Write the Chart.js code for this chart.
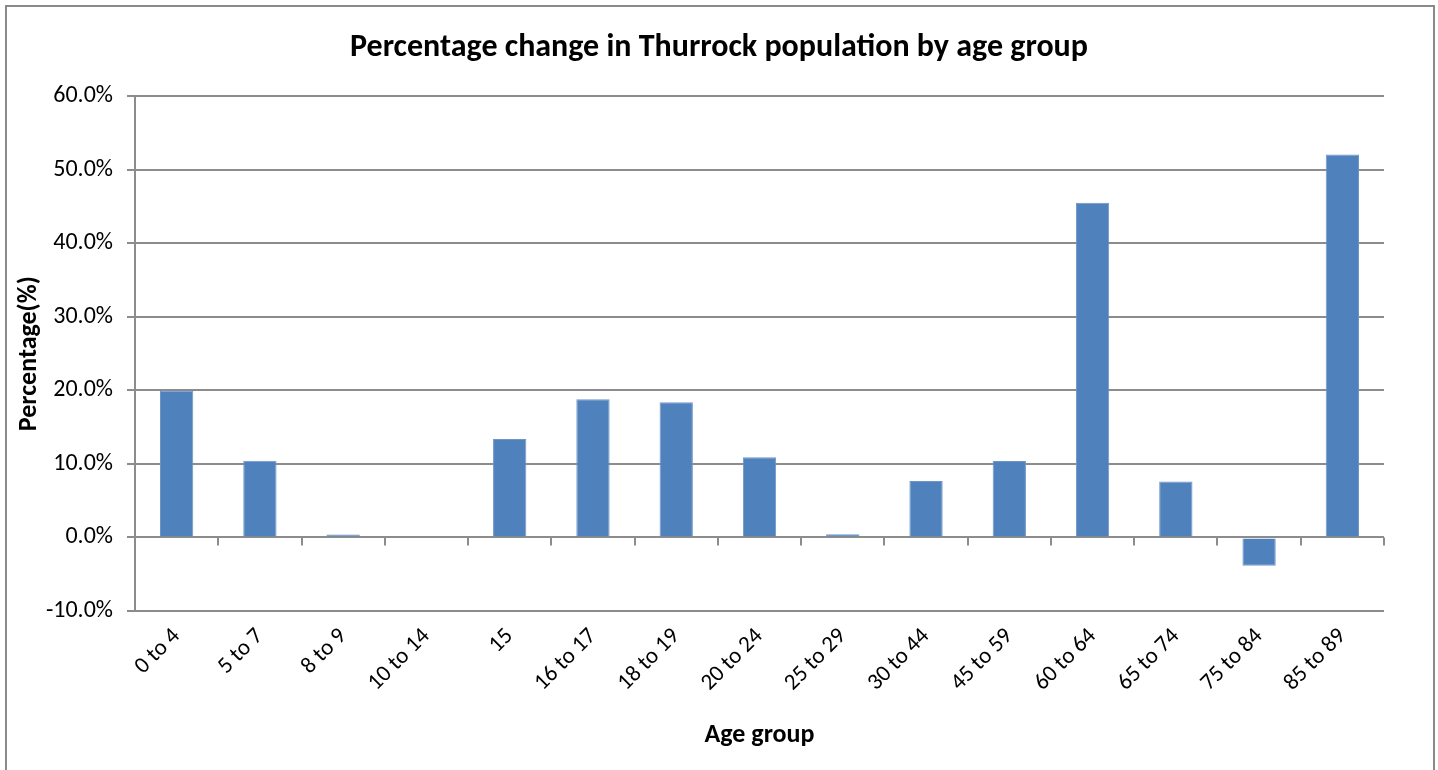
<!DOCTYPE html>
<html>
<head>
<meta charset="utf-8">
<title>Percentage change in Thurrock population by age group</title>
<script src="https://cdn.jsdelivr.net/npm/chart.js@4"></script>
<style>
  html, body { margin: 0; padding: 0; background: #fff; }
  .marco {
    position: absolute; left: 5px; top: 5px; width: 1426px; height: 780px;
    border: 2px solid #8a8a8a; border-bottom: none;
  }
  .lienzo { position: absolute; left: 0; top: 0; width: 1438px; height: 770px; }
</style>
</head>
<body>
<div class="marco"></div>
<div class="lienzo"><canvas id="grafico" width="1438" height="770"></canvas></div>
<script>
// datos
const gruposEdad = ['0 to 4', '5 to 7', '8 to 9', '10 to 14', '15', '16 to 17', '18 to 19', '20 to 24',
  '25 to 29', '30 to 44', '45 to 59', '60 to 64', '65 to 74', '75 to 84', '85 to 89'];
const cambioPorcentaje = [20.0, 10.45, 0.4, 0, 13.4, 18.8, 18.4, 10.9, 0.45, 7.7, 10.4, 45.55, 7.6, -3.85, 52.1];
const ticksY = [-10, 0, 10, 20, 30, 40, 50, 60];

const fuente = "Carlito, Calibri, Lato, sans-serif";
const gris = '#8c8c8c';

// marcas pequeñas bajo la linea del cero, entre categorias
const marcasCero = {
  id: 'marcasCero',
  afterDraw(chart) {
    const x = chart.scales.x;
    const y = chart.scales.y;
    const ctx = chart.ctx;
    const y0 = y.getPixelForValue(0);
    const paso = (x.right - x.left) / gruposEdad.length;
    ctx.save();
    ctx.strokeStyle = gris;
    ctx.lineWidth = 2;
    ctx.beginPath();
    for (let i = 1; i <= gruposEdad.length; i++) {
      const px = Math.round(x.left + i * paso);
      ctx.moveTo(px, y0);
      ctx.lineTo(px, y0 + 8);
    }
    ctx.stroke();
    ctx.restore();
  }
};

const ctx = document.getElementById('grafico').getContext('2d');
window.myChart = new Chart(ctx, {
  type: 'bar',
  data: {
    labels: gruposEdad,
    datasets: [{
      label: 'Percentage change',
      data: cambioPorcentaje,
      backgroundColor: '#4F81BD',
      borderColor: '#6e95c7',
      borderWidth: 1,
      barPercentage: 0.4,
      categoryPercentage: 1
    }]
  },
  options: {
    responsive: false,
    animation: false,
    layout: { padding: 0 },
    plugins: {
      legend: { display: false },
      tooltip: { enabled: false },
      title: {
        display: true,
        text: 'Percentage change in Thurrock population by age group',
        color: '#000',
        font: { family: fuente, size: 32, weight: 'bold' },
        padding: { top: 29, bottom: 29 }
      }
    },
    scales: {
      x: {
        grid: { display: false, drawTicks: false },
        border: { display: false },
        ticks: {
          color: '#000',
          font: { family: fuente, size: 23 },
          minRotation: 45,
          maxRotation: 45,
          autoSkip: false,
          padding: 12
        },
        title: {
          display: true,
          text: 'Age group',
          color: '#000',
          font: { family: fuente, size: 26, weight: 'bold' },
          padding: { top: 0, bottom: 19 }
        },
        afterFit(scale) { scale.height = 159; }
      },
      y: {
        min: -10,
        max: 60,
        afterBuildTicks(scale) { scale.ticks = ticksY.map(v => ({ value: v })); },
        grid: { color: gris, lineWidth: 2, tickLength: 8, drawTicks: true },
        border: { display: true, color: gris, width: 2 },
        ticks: {
          color: '#000',
          font: { family: fuente, size: 24 },
          padding: 14,
          callback: v => v.toFixed(1) + '%'
        },
        title: {
          display: true,
          text: 'Percentage(%)',
          color: '#000',
          font: { family: fuente, size: 26, weight: 'bold' },
          padding: { top: 14, bottom: 0 }
        },
        afterFit(scale) { scale.width = 135; }
      },
      // eje vacio a la derecha solo para dejar el margen
      margenDer: {
        position: 'right',
        min: 0,
        max: 1,
        grid: { display: false, drawTicks: false },
        border: { display: false },
        ticks: { display: false },
        afterFit(scale) { scale.width = 54; }
      }
    }
  },
  plugins: [marcasCero]
});
</script>
</body>
</html>
